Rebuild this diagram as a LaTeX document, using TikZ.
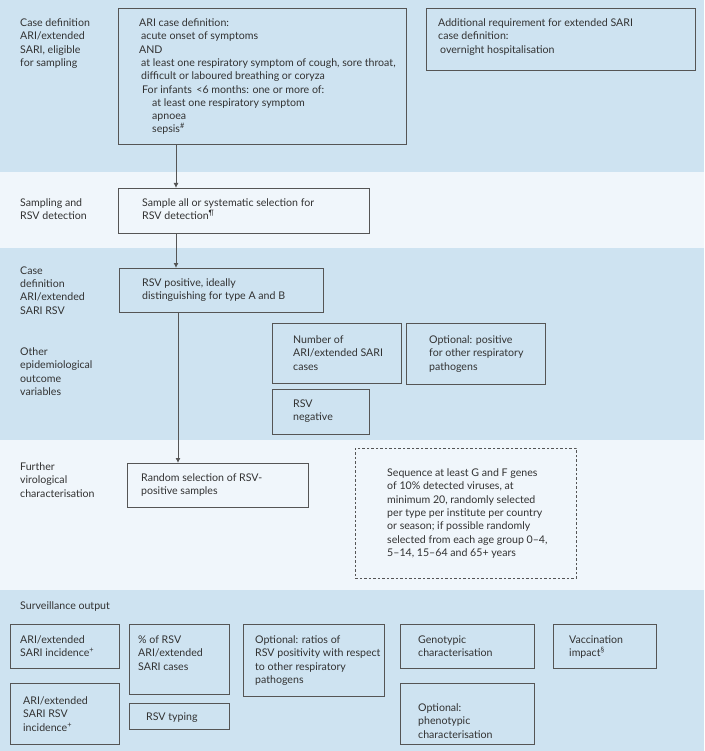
\documentclass[tikz,border=0pt]{standalone}
\usepackage{fontspec}
\setmainfont{Lato}
\definecolor{bandblue}{RGB}{206,227,241}
\definecolor{bandlight}{RGB}{240,246,251}
\definecolor{lineg}{RGB}{85,85,85}
\definecolor{txt}{RGB}{50,50,50}
\tikzset{
  bx/.style={draw=lineg, line width=0.9pt, fill=none, inner sep=0pt, anchor=north west},
  dbx/.style={bx, dash pattern=on 2.5pt off 2pt},
  tx/.style={anchor=north west, inner sep=0pt, align=left, text=txt, font=\fontsize{10.6}{13.3}\selectfont},
  arr/.style={draw=lineg, line width=0.9pt, -{Latex[length=5pt,width=5pt]}},
  ln/.style={draw=lineg, line width=0.9pt},
}
\usetikzlibrary{arrows.meta}
\newcommand\mybox[6][bx]{\node[#1, minimum width={(#4-#2)*1pt}, minimum height={(#5-#3)*1pt}] (#6) at (#2,#3) {};}
\begin{document}
\begin{tikzpicture}[x=1pt,y=-1pt]
\useasboundingbox (0,0) rectangle (704,751);
% bands
\fill[bandblue] (0,0) rectangle (704,172);
\fill[bandlight] (0,172) rectangle (704,248);
\fill[bandblue] (0,248) rectangle (704,440);
\fill[bandlight] (0,440) rectangle (704,590);
\fill[bandblue] (0,590) rectangle (704,751);
% row labels
\node[tx] (l1) at (20,18.5) {Case definition\\ARI/extended\\SARI, eligible\\for sampling};
\node[tx] (l2) at (20,198.5) {Sampling and\\RSV detection};
\node[tx] (l3) at (20,266.5) {Case\\definition\\ARI/extended\\SARI RSV};
\node[tx] (l4) at (20,347.5) {Other\\epidemiological\\outcome\\variables};
\node[tx] (l5) at (20,462.5) {Further\\virological\\characterisation};
\node[tx] (l6) at (20,601.5) {Surveillance output};
% boxes
\mybox{118}{8}{406}{144}{b1}
\mybox{426}{8}{695}{70}{b2}
\mybox{118}{188}{369}{233}{b3}
\mybox{119}{268}{323}{312}{b4}
\mybox{272}{323}{401}{383}{b5}
\mybox{406}{323}{545}{384}{b6}
\mybox{272}{389}{369}{434}{b7}
\mybox{127}{463}{308}{507}{b8}
\mybox[dbx]{355}{448}{576}{578}{b9}
\mybox{10}{624}{119}{668}{o1}
\mybox{10}{683}{119}{744}{o2}
\mybox{129}{624}{229}{694}{o3}
\mybox{129}{703}{229}{729}{o4}
\mybox{243}{624}{384}{696}{o5}
\mybox{400}{624}{534}{668}{o6}
\mybox{400}{683}{534}{744}{o7}
\mybox{553}{624}{656}{668}{o8}
% box texts
\node[tx] (t1) at (139,18.5) {ARI case definition:\\
\hspace*{2pt}acute onset of symptoms\\
AND\\
\hspace*{2pt}at least one respiratory symptom of cough, sore throat,\\
\hspace*{2pt}difficult or laboured breathing or coryza\\
\hspace*{3pt}For infants \,<6 months: one or more of:\\
\hspace*{13pt}at least one respiratory symptom\\
\hspace*{13pt}apnoea\\
\hspace*{13pt}sepsis\textsuperscript{\#}};
\node[tx] (t2) at (438,18.5) {Additional requirement for extended SARI\\case definition:\\\hspace*{2pt}overnight hospitalisation};
\node[tx] (t3) at (142,198.5) {Sample all or systematic selection for\\RSV detection\textsuperscript{¶}};
\node[tx] (t4) at (142,278.5) {RSV positive, ideally\\distinguishing for type A and B};
\node[tx] (t5) at (293,335.5) {Number of\\ARI/extended SARI\\cases};
\node[tx] (t6) at (429,335.5) {Optional: positive\\for other respiratory\\pathogens};
\node[tx] (t7) at (293,399.5) {RSV\\negative};
\node[tx] (t8) at (141,473.5) {Random selection of RSV-\\positive samples};
\node[tx] (t9) at (387,468.5) {Sequence at least G and F genes\\of 10\% detected viruses, at\\minimum 20, randomly selected\\per type per institute per country\\or season; if possible randomly\\selected from each age group 0--4,\\5--14, 15--64 and 65+ years};
\node[tx] (s1) at (20,635.5) {ARI/extended\\SARI incidence\textsuperscript{+}};
\node[tx] (s2) at (23,696.5) {ARI/extended\\SARI RSV\\incidence\textsuperscript{+}};
\node[tx] (s3) at (138,635.5) {\% of RSV\\ARI/extended\\SARI cases};
\node[tx] (s4) at (146,712.5) {RSV typing};
\node[tx] (s5) at (255,635.5) {Optional: ratios of\\RSV positivity with respect\\to other respiratory\\pathogens};
\node[tx] (s6) at (418,635.5) {Genotypic\\characterisation};
\node[tx] (s7) at (418,703.5) {Optional:\\phenotypic\\characterisation};
\node[tx] (s8) at (569,635.5) {Vaccination\\impact\textsuperscript{§}};
% connectors
\coordinate (c1) at (176,0);
\coordinate (c2) at (178,0);
\draw[arr] (b1.south -| c1) -- (b3.north -| c1);
\draw[arr] (b3.south -| c1) -- (b4.north -| c1);
\draw[arr] (b4.south -| c2) -- (b8.north -| c2);
\end{tikzpicture}
\end{document}
